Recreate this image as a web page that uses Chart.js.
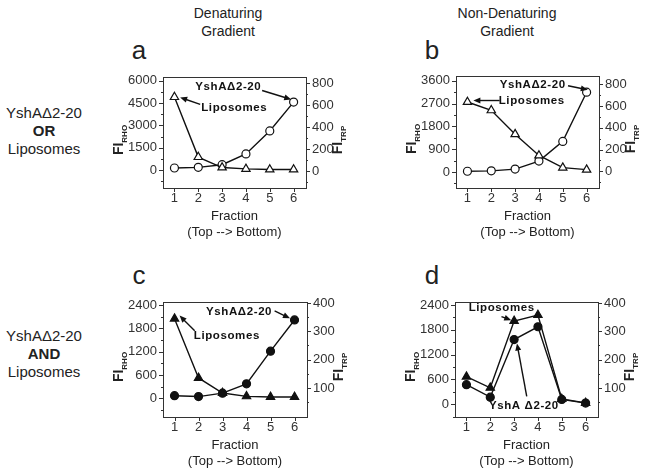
<!DOCTYPE html>
<html>
<head>
<meta charset="utf-8">
<script src="https://cdn.jsdelivr.net/npm/chart.js@4.4.0/dist/chart.umd.min.js"></script>
<style>
body { margin: 0; width: 645px; height: 473px; position: relative; overflow: hidden; background: #fff;
       font-family: "Liberation Sans", Arial, sans-serif; color: #222; }
canvas { position: absolute; }
.t { position: absolute; white-space: nowrap; line-height: 1; transform: translate(-50%, -50%); }
.yl { position: absolute; white-space: nowrap; line-height: 1; font-weight: bold; font-size: 14px;
      transform: translate(-50%, -50%) rotate(-90deg); }
.yl sub { font-size: 8px; }
</style>
</head>
<body>
<div class="t" style="left:228px;top:13px;font-size:14px">Denaturing</div>
<div class="t" style="left:228px;top:31px;font-size:14px">Gradient</div>
<div class="t" style="left:507px;top:13px;font-size:14px">Non-Denaturing</div>
<div class="t" style="left:507px;top:31px;font-size:14px">Gradient</div>

<div class="t" style="left:139px;top:50px;font-size:26px">a</div>
<div class="t" style="left:432px;top:50px;font-size:26px">b</div>
<div class="t" style="left:139px;top:275px;font-size:26px">c</div>
<div class="t" style="left:432px;top:275px;font-size:26px">d</div>

<div class="t" style="left:44px;top:112px;font-size:15px">YshAΔ2-20</div>
<div class="t" style="left:44px;top:130px;font-size:15px;font-weight:bold">OR</div>
<div class="t" style="left:44px;top:148px;font-size:15px">Liposomes</div>
<div class="t" style="left:44px;top:335px;font-size:15px">YshAΔ2-20</div>
<div class="t" style="left:44px;top:353px;font-size:15px;font-weight:bold">AND</div>
<div class="t" style="left:44px;top:371px;font-size:15px">Liposomes</div>

<script>
// fractions collected from the gradient, top to bottom
const fractions = [1, 2, 3, 4, 5, 6];
const xTicks = [1, 2, 3, 4, 5, 6];

// a : denaturing gradient, protein or liposomes alone
const lipoA = [4900, 880, 180, 90, 45, 45];
const yshaA = [30, 36, 60, 158, 367, 630];
const rhoTicksA = [0, 1500, 3000, 4500, 6000];
const rhoMinorA = [-750, 750, 2250, 3750, 5250];
const trpTicksA = [0, 200, 400, 600, 800];
const trpMinorA = [-100, 100, 300, 500, 700];

// b : non-denaturing gradient, alone
const lipoB = [2760, 2430, 1490, 650, 170, 90];
const yshaB = [0, 4, 20, 94, 275, 728];
const rhoTicksB = [0, 900, 1800, 2700, 3600];
const rhoMinorB = [-450, 450, 1350, 2250, 3150];
const trpTicksB = [0, 200, 400, 600, 800];
const trpMinorB = [-100, 100, 300, 500, 700];

// c : denaturing gradient, protein and liposomes together
const lipoC = [2050, 525, 135, 50, 35, 35];
const yshaC = [73, 70, 82, 115, 230, 340];
const rhoTicksC = [0, 600, 1200, 1800, 2400];
const rhoMinorC = [-300, 300, 900, 1500, 2100];
const trpTicksC = [100, 200, 300, 400];
const trpMinorC = [50, 150, 250, 350];

// d : non-denaturing gradient, together
const lipoD = [666, 397, 2015, 2158, 126, 31];
const yshaD = [112, 68, 271, 316, 60, 47];
const rhoTicksD = [0, 600, 1200, 1800, 2400];
const rhoMinorD = [-300, 300, 900, 1500, 2100];
const trpTicksD = [100, 200, 300, 400];
const trpMinorD = [50, 150, 250, 350];

const FONT = '"Liberation Sans", Arial, sans-serif';
const INK = '#111';
const AXIS = '#333';

const panels = [
  { box: [163, 75, 306, 188], lipo: lipoA, ysha: yshaA, filled: false,
    rho: { min: -1190, max: 6260, ticks: rhoTicksA, minor: rhoMinorA },
    trp: { min: -152, max: 860, ticks: trpTicksA, minor: trpMinorA },
    notes: [
      { text: 'YshAΔ2-20', x: 3.26, y: 5604, from: [4.68, 5341], to: [5.9, 4747] },
      { text: 'Liposomes', x: 3.51, y: 4154, from: [2.08, 4418], to: [1.24, 4879] }
    ] },
  { box: [456, 74, 599, 188], lipo: lipoB, ysha: yshaB, filled: false,
    rho: { min: -633, max: 3794, ticks: rhoTicksB, minor: rhoMinorB },
    trp: { min: -154, max: 879, ticks: trpTicksB, minor: trpMinorB },
    notes: [
      { text: 'YshAΔ2-20', x: 3.74, y: 3456, from: [5.22, 3402], to: [6.05, 3239] },
      { text: 'Liposomes', x: 3.7, y: 2819, from: [2.35, 2819], to: [1.25, 2819] }
    ] },
  { box: [163, 300, 307, 417], lipo: lipoC, ysha: yshaC, filled: true,
    rho: { min: -481, max: 2484, ticks: rhoTicksC, minor: rhoMinorC },
    trp: { min: -2, max: 404, ticks: trpTicksC, minor: trpMinorC },
    notes: [
      { text: 'YshAΔ2-20', x: 3.69, y: 2230, from: [5.17, 2248], to: [5.81, 2060] },
      { text: 'Liposomes', x: 3.18, y: 1597, from: [1.84, 1741], to: [1.21, 2129] }
    ] },
  { box: [455, 300, 598, 417], lipo: lipoD, ysha: yshaD, filled: true,
    rho: { min: -310, max: 2479, ticks: rhoTicksD, minor: rhoMinorD },
    trp: { min: -2, max: 404, ticks: trpTicksD, minor: trpMinorD },
    notes: [
      { text: 'Liposomes', x: 2.48, y: 2336, from: [2.47, 2121], to: [2.88, 2035] },
      { text: 'YshA Δ2-20', x: 3.41, y: -48, from: [3.53, 191], to: [3.12, 1470] }
    ] }
];

// box around the plot + outward tick marks (major and minor)
const framePlugin = {
  id: 'frame',
  afterDraw(chart) {
    const { ctx, chartArea: a, scales } = chart;
    const p = chart.options.plugins.frame;
    ctx.save();
    ctx.strokeStyle = AXIS;
    ctx.lineWidth = 1;
    ctx.strokeRect(Math.round(a.left) + 0.5, Math.round(a.top) + 0.5,
      Math.round(a.right - a.left), Math.round(a.bottom - a.top));
    ctx.beginPath();
    const tick = (scale, v, len, side) => {
      const px = Math.round(scale.getPixelForValue(v)) + 0.5;
      if (side === 'left') { ctx.moveTo(a.left, px); ctx.lineTo(a.left - len, px); }
      if (side === 'right') { ctx.moveTo(a.right, px); ctx.lineTo(a.right + len, px); }
      if (side === 'bottom') { ctx.moveTo(px, a.bottom); ctx.lineTo(px, a.bottom + len); }
    };
    p.rho.ticks.forEach(v => tick(scales.rho, v, 4, 'left'));
    p.rho.minor.forEach(v => tick(scales.rho, v, 2, 'left'));
    p.trp.ticks.forEach(v => tick(scales.trp, v, 4, 'right'));
    p.trp.minor.forEach(v => tick(scales.trp, v, 2, 'right'));
    xTicks.forEach(v => tick(scales.x, v, 4, 'bottom'));
    ctx.stroke();
    ctx.restore();
  }
};

// bold labels with arrows pointing at the curves
const notePlugin = {
  id: 'notes',
  afterDatasetsDraw(chart) {
    const { ctx, scales } = chart;
    const notes = chart.options.plugins.notes.items;
    const X = v => scales.x.getPixelForValue(v);
    const Y = v => scales.rho.getPixelForValue(v);
    ctx.save();
    ctx.fillStyle = INK;
    ctx.strokeStyle = INK;
    ctx.font = 'bold 11.5px ' + FONT;
    ctx.letterSpacing = '0.6px';
    ctx.textAlign = 'center';
    ctx.textBaseline = 'middle';
    notes.forEach(n => {
      ctx.fillText(n.text, X(n.x), Y(n.y));
      const x1 = X(n.from[0]), y1 = Y(n.from[1]);
      const x2 = X(n.to[0]), y2 = Y(n.to[1]);
      const ang = Math.atan2(y2 - y1, x2 - x1);
      ctx.lineWidth = 1.4;
      ctx.beginPath();
      ctx.moveTo(x1, y1);
      ctx.lineTo(x2 - 4 * Math.cos(ang), y2 - 4 * Math.sin(ang));
      ctx.stroke();
      ctx.beginPath();
      ctx.moveTo(x2, y2);
      ctx.lineTo(x2 - 7 * Math.cos(ang) + 3 * Math.sin(ang), y2 - 7 * Math.sin(ang) - 3 * Math.cos(ang));
      ctx.lineTo(x2 - 7 * Math.cos(ang) - 3 * Math.sin(ang), y2 - 7 * Math.sin(ang) + 3 * Math.cos(ang));
      ctx.closePath();
      ctx.fill();
    });
    ctx.restore();
  }
};

function addYLabel(x, y, sub) {
  const d = document.createElement('div');
  d.className = 'yl';
  d.style.left = x + 'px';
  d.style.top = y + 'px';
  d.innerHTML = 'FI<sub>' + sub + '</sub>';
  document.body.appendChild(d);
}

function addText(x, y, txt) {
  const d = document.createElement('div');
  d.className = 't';
  d.style.left = x + 'px';
  d.style.top = y + 'px';
  d.style.fontSize = '13px';
  d.textContent = txt;
  document.body.appendChild(d);
}

function makePanel(p) {
  const [l, t, r, b] = p.box;
  const padL = 62, padR = 42, padT = 12, padB = 22;
  const w = r - l + padL + padR, h = b - t + padT + padB;
  const cv = document.createElement('canvas');
  cv.width = w; cv.height = h;
  cv.style.left = (l - padL) + 'px';
  cv.style.top = (t - padT) + 'px';
  cv.style.width = w + 'px';
  cv.style.height = h + 'px';
  document.body.appendChild(cv);

  const tickFont = { family: FONT, size: 13 };
  const yScale = (ax, pos, width) => ({
    type: 'linear', position: pos, min: ax.min, max: ax.max,
    afterBuildTicks: s => { s.ticks = ax.ticks.map(v => ({ value: v })); },
    afterFit: s => { s.width = width; },
    grid: { display: false, drawTicks: false },
    border: { display: false },
    ticks: { font: tickFont, color: AXIS, padding: 6, callback: v => String(v) }
  });

  const ptFill = p.filled ? INK : '#fff';
  new Chart(cv, {
    type: 'line',
    data: {
      datasets: [
        { data: fractions.map((x, i) => ({ x, y: p.lipo[i] })), yAxisID: 'rho',
          pointStyle: 'triangle', pointRadius: 4.8, pointBorderWidth: 1.2,
          pointBackgroundColor: ptFill, pointBorderColor: INK,
          borderColor: INK, borderWidth: 1.4, tension: 0 },
        { data: fractions.map((x, i) => ({ x, y: p.ysha[i] })), yAxisID: 'trp',
          pointStyle: 'circle', pointRadius: 4, pointBorderWidth: 1.2,
          pointBackgroundColor: ptFill, pointBorderColor: INK,
          borderColor: INK, borderWidth: 1.4, tension: 0 }
      ]
    },
    options: {
      responsive: false,
      animation: false,
      devicePixelRatio: 1,
      layout: { padding: { top: padT, left: 0, right: 0, bottom: 0 } },
      scales: {
        x: {
          type: 'linear', min: 0.52, max: 6.52,
          afterBuildTicks: s => { s.ticks = xTicks.map(v => ({ value: v })); },
          afterFit: s => { s.height = padB; },
          grid: { display: false, drawTicks: false },
          border: { display: false },
          ticks: { font: tickFont, color: AXIS, padding: 3, callback: v => String(v) }
        },
        rho: yScale(p.rho, 'left', padL),
        trp: yScale(p.trp, 'right', padR)
      },
      plugins: {
        legend: { display: false },
        tooltip: { enabled: false },
        frame: { rho: p.rho, trp: p.trp },
        notes: { items: p.notes }
      }
    },
    plugins: [framePlugin, notePlugin]
  });

  const mid = (t + b) / 2 + 8;
  addYLabel(l - 43, mid, 'RHO');
  addYLabel(r + 33, mid, 'TRP');
  addText((l + r) / 2, b + 27, 'Fraction');
  addText((l + r) / 2, b + 43, '(Top --> Bottom)');
}

panels.forEach(makePanel);
</script>
</body>
</html>
